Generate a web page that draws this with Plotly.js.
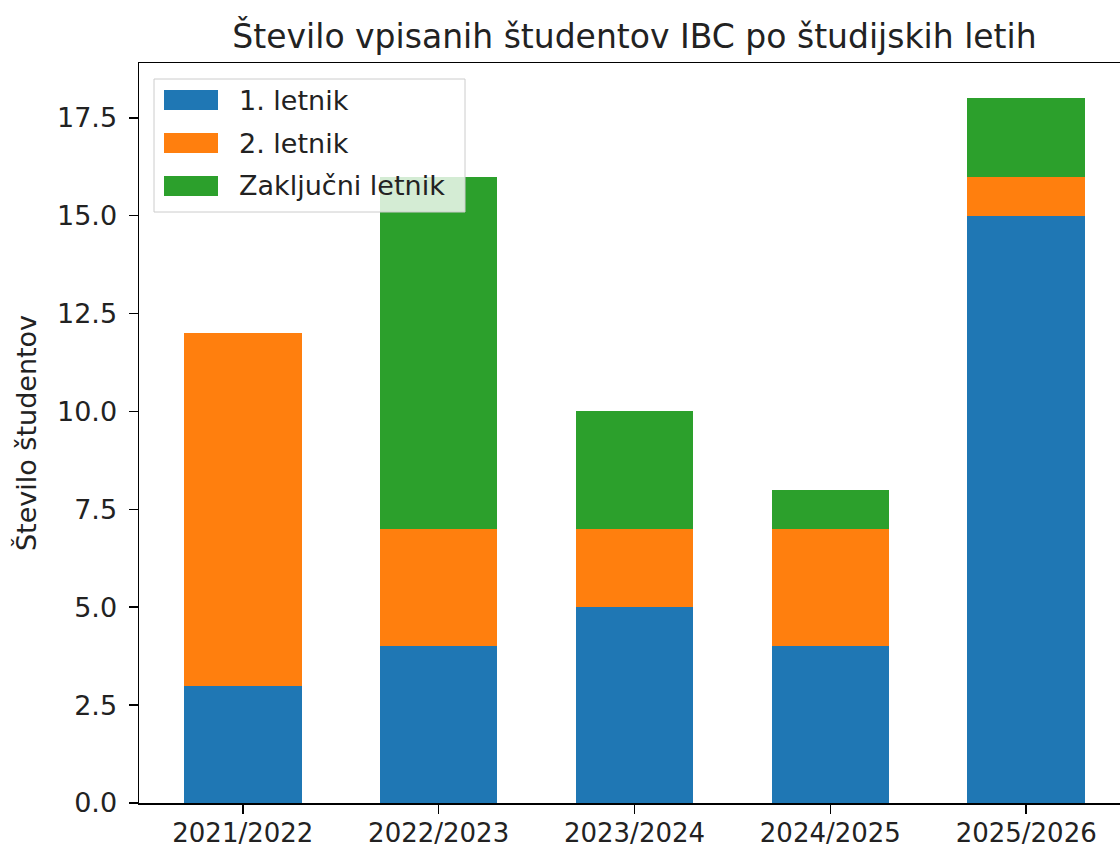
<!DOCTYPE html>
<html>
<head>
<meta charset="utf-8">
<script src="https://cdn.plot.ly/plotly-3.0.1.min.js"></script>
<style>
  html, body { margin: 0; padding: 0; overflow: hidden; background: #fff; }
  #chart { width: 1131px; height: 849px; }
</style>
</head>
<body>
<div id="chart"></div>
<script>
// Study years and enrolled students per year-of-study
const years = ['2021/2022', '2022/2023', '2023/2024', '2024/2025', '2025/2026'];
const firstYear = [3, 4, 5, 4, 15];
const secondYear = [9, 3, 2, 3, 1];
const finalYear = [0, 9, 3, 1, 2];

const seriesNames = ['1. letnik', '2. letnik', 'Zaključni letnik'];
const seriesColors = ['#1f77b4', '#ff7f0e', '#2ca02c'];
const seriesValues = [firstYear, secondYear, finalYear];

const FONT = 'DejaVu Sans, sans-serif';
const TEXT = '#222';
const SIZE = 27;

// plot area in pixels (used to place the hand-drawn legend)
const plotLeft = 139, plotRight = 1130, plotTop = 63, plotBottom = 803;
const px = x => (x - plotLeft) / (plotRight - plotLeft);
const py = y => (plotBottom - y) / (plotBottom - plotTop);

const traces = seriesNames.map((name, i) => ({
  type: 'bar',
  name: name,
  x: years,
  y: seriesValues[i],
  width: 0.6,
  marker: { color: seriesColors[i], line: { width: 0 } },
  showlegend: false
}));

// matplotlib-style legend box
const shapes = [{
  type: 'rect', xref: 'paper', yref: 'paper', layer: 'above',
  x0: px(154), x1: px(465), y0: py(212), y1: py(79),
  fillcolor: 'rgba(255,255,255,0.8)',
  line: { color: '#cccccc', width: 1 }
}];
const annotations = [];
const rowY = [100, 143, 186];
seriesNames.forEach((name, i) => {
  shapes.push({
    type: 'rect', xref: 'paper', yref: 'paper', layer: 'above',
    x0: px(164), x1: px(218), y0: py(rowY[i] + 10), y1: py(rowY[i] - 10),
    fillcolor: seriesColors[i], line: { width: 0 }
  });
  annotations.push({
    xref: 'paper', yref: 'paper', x: px(237), y: py(rowY[i]),
    xanchor: 'left', yanchor: 'middle', showarrow: false,
    text: name, font: { family: FONT, size: SIZE, color: TEXT }
  });
});

const layout = {
  width: 1131,
  height: 849,
  paper_bgcolor: '#FFFFFF',
  plot_bgcolor: '#FFFFFF',
  font: { family: FONT, size: SIZE, color: TEXT },
  barmode: 'stack',
  margin: { l: plotLeft, r: 1131 - plotRight, t: plotTop, b: 849 - plotBottom },
  title: {
    text: 'Število vpisanih študentov IBC po študijskih letih',
    font: { family: FONT, size: 33, color: TEXT },
    xref: 'paper', x: 0.5, xanchor: 'center',
    yref: 'container', y: 1 - 36 / 849, yanchor: 'middle'
  },
  xaxis: {
    type: 'category',
    range: [-0.53, 4.53],
    showline: true, mirror: true, linecolor: '#000', linewidth: 1.5,
    ticks: 'outside', ticklen: 9, tickwidth: 1.5, tickcolor: '#000',
    ticklabelstandoff: -3,
    showgrid: false, zeroline: false,
    tickfont: { family: FONT, size: 26, color: TEXT }
  },
  yaxis: {
    range: [0, 18.9],
    dtick: 2.5, tick0: 0, tickformat: '.1f',
    showline: true, mirror: true, linecolor: '#000', linewidth: 1.5,
    ticks: 'outside', ticklen: 9, tickwidth: 1.5, tickcolor: '#000',
    ticklabelstandoff: 6,
    showgrid: false, zeroline: false,
    tickfont: { family: FONT, size: SIZE, color: TEXT },
    title: { text: 'Število študentov', font: { family: FONT, size: SIZE, color: TEXT }, standoff: 12 }
  },
  shapes: shapes,
  annotations: annotations
};

Plotly.newPlot('chart', traces, layout, { displayModeBar: false, staticPlot: true });
</script>
</body>
</html>
